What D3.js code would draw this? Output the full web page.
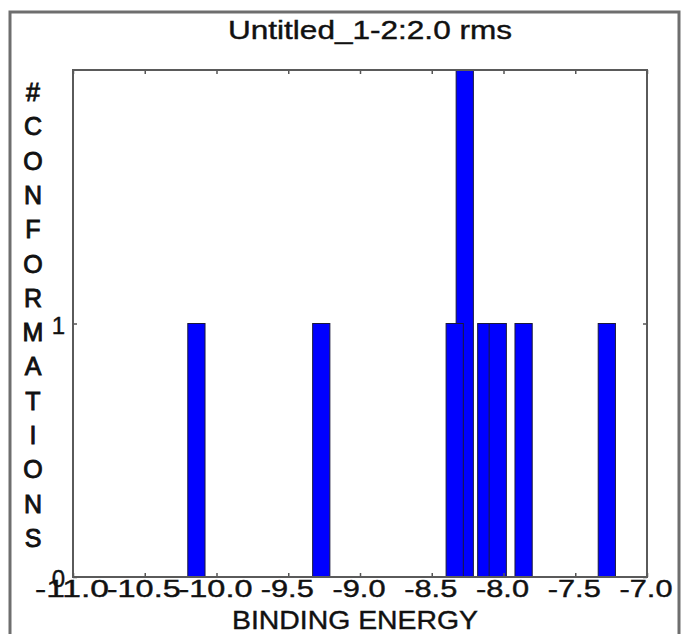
<!DOCTYPE html>
<html>
  <head>
    <script src="https://d3js.org/d3.v7.min.js" charset="utf-8"></script>
    <style>
      body { margin: 0; background: #fff; }
      text { font-family: "Liberation Sans", Arial, sans-serif; fill: #111; stroke: #111; stroke-width: 0.4; }
    </style>
  </head>
  <body>
    <svg id="chart"></svg>
    <script>
      // bar centres (binding energy) and number of conformations
      const energies = [-10.14, -9.27, -8.34, -8.27, -8.12, -8.04, -7.86, -7.28];
      const counts = [1, 1, 1, 2, 1, 1, 1, 1];
      const binWidth = 0.12;
      const xTickValues = [-11.0, -10.5, -10.0, -9.5, -9.0, -8.5, -8.0, -7.5, -7.0];
      const yTickValues = [0, 1];
      const yLabelChars = ["#", "C", "O", "N", "F", "O", "R", "M", "A", "T", "I", "O", "N", "S"];
      const titleText = "Untitled_1-2:2.0 rms";
      const xTitle = "BINDING ENERGY";

      const W = 682, H = 634;
      const margin = {top: 70, right: 35, bottom: 57, left: 73},
          width = W - margin.left - margin.right,
          height = H - margin.top - margin.bottom;

      const svg = d3.select("#chart").attr("width", W).attr("height", H);
      svg.append("rect").attr("width", W).attr("height", H).attr("fill", "#fff");

      // window frame
      svg.append("path")
        .attr("d", `M10,${H} V12 H${W - 3} V${H}`)
        .attr("fill", "none").attr("stroke", "#6e6e6e").attr("stroke-width", 3);

      const x = d3.scaleLinear().domain([-11, -7]).range([0, width]);
      const y = d3.scaleLinear().domain([0, 2]).range([height, 0]);

      const g = svg.append("g").attr("transform", `translate(${margin.left}, ${margin.top})`);

      const data = energies.map((e, i) => ({e: e, n: counts[i]}))
        .sort((a, b) => b.n - a.n);

      g.selectAll("rect.bar")
        .data(data)
        .enter()
        .append("rect")
        .attr("class", "bar")
        .attr("x", d => x(d.e - binWidth / 2))
        .attr("width", d => x(d.e + binWidth / 2) - x(d.e - binWidth / 2))
        .attr("y", d => y(d.n))
        .attr("height", d => y(0) - y(d.n))
        .attr("fill", "#0000ff")
        .attr("stroke", "#1a1a3a")
        .attr("stroke-width", 1);

      // axes: inward ticks on all four sides
      const tickLen = 4;
      const styleAxis = sel => {
        sel.select(".domain").remove();
        sel.selectAll(".tick line").attr("stroke", "#555").attr("stroke-width", 1.5);
        sel.selectAll(".tick text").remove();
      };
      g.append("g").attr("transform", `translate(0, ${height})`)
        .call(d3.axisBottom(x).tickValues(xTickValues).tickSize(-tickLen)).call(styleAxis);
      g.append("g")
        .call(d3.axisTop(x).tickValues(xTickValues).tickSize(-tickLen)).call(styleAxis);
      g.append("g")
        .call(d3.axisLeft(y).tickValues(yTickValues).tickSize(-tickLen)).call(styleAxis);
      g.append("g").attr("transform", `translate(${width}, 0)`)
        .call(d3.axisRight(y).tickValues(yTickValues).tickSize(-tickLen)).call(styleAxis);

      g.append("rect")
        .attr("width", width).attr("height", height)
        .attr("fill", "none").attr("stroke", "#5a5a5a").attr("stroke-width", 2);

      // tick labels (stretched like the original)
      g.selectAll("text.xl")
        .data(xTickValues)
        .enter()
        .append("text")
        .attr("class", "xl")
        .attr("x", d => x(d) - 1)
        .attr("y", height + 20)
        .attr("text-anchor", "middle")
        .attr("font-size", 23)
        .attr("textLength", d => d <= -10 ? 74 : 53)
        .attr("lengthAdjust", "spacingAndGlyphs")
        .text(d => d.toFixed(1));

      g.selectAll("text.yl")
        .data(yTickValues)
        .enter()
        .append("text")
        .attr("class", "yl")
        .attr("x", -8)
        .attr("y", d => y(d) + 10)
        .attr("text-anchor", "end")
        .attr("font-size", 24)
        .text(d => d);

      svg.append("text")
        .attr("x", 370).attr("y", 39)
        .attr("text-anchor", "middle")
        .attr("font-size", 25)
        .attr("textLength", 284)
        .attr("lengthAdjust", "spacingAndGlyphs")
        .text(titleText);

      svg.append("text")
        .attr("x", 355).attr("y", 629)
        .attr("text-anchor", "middle")
        .attr("font-size", 25)
        .attr("textLength", 246)
        .attr("lengthAdjust", "spacingAndGlyphs")
        .text(xTitle);

      svg.append("g").selectAll("text")
        .data(yLabelChars)
        .enter()
        .append("text")
        .attr("x", 33)
        .attr("y", (d, i) => 101 + i * 34.3)
        .attr("text-anchor", "middle")
        .attr("font-size", 25)
        .style("stroke-width", 0.9)
        .text(d => d);
    </script>
  </body>
</html>
